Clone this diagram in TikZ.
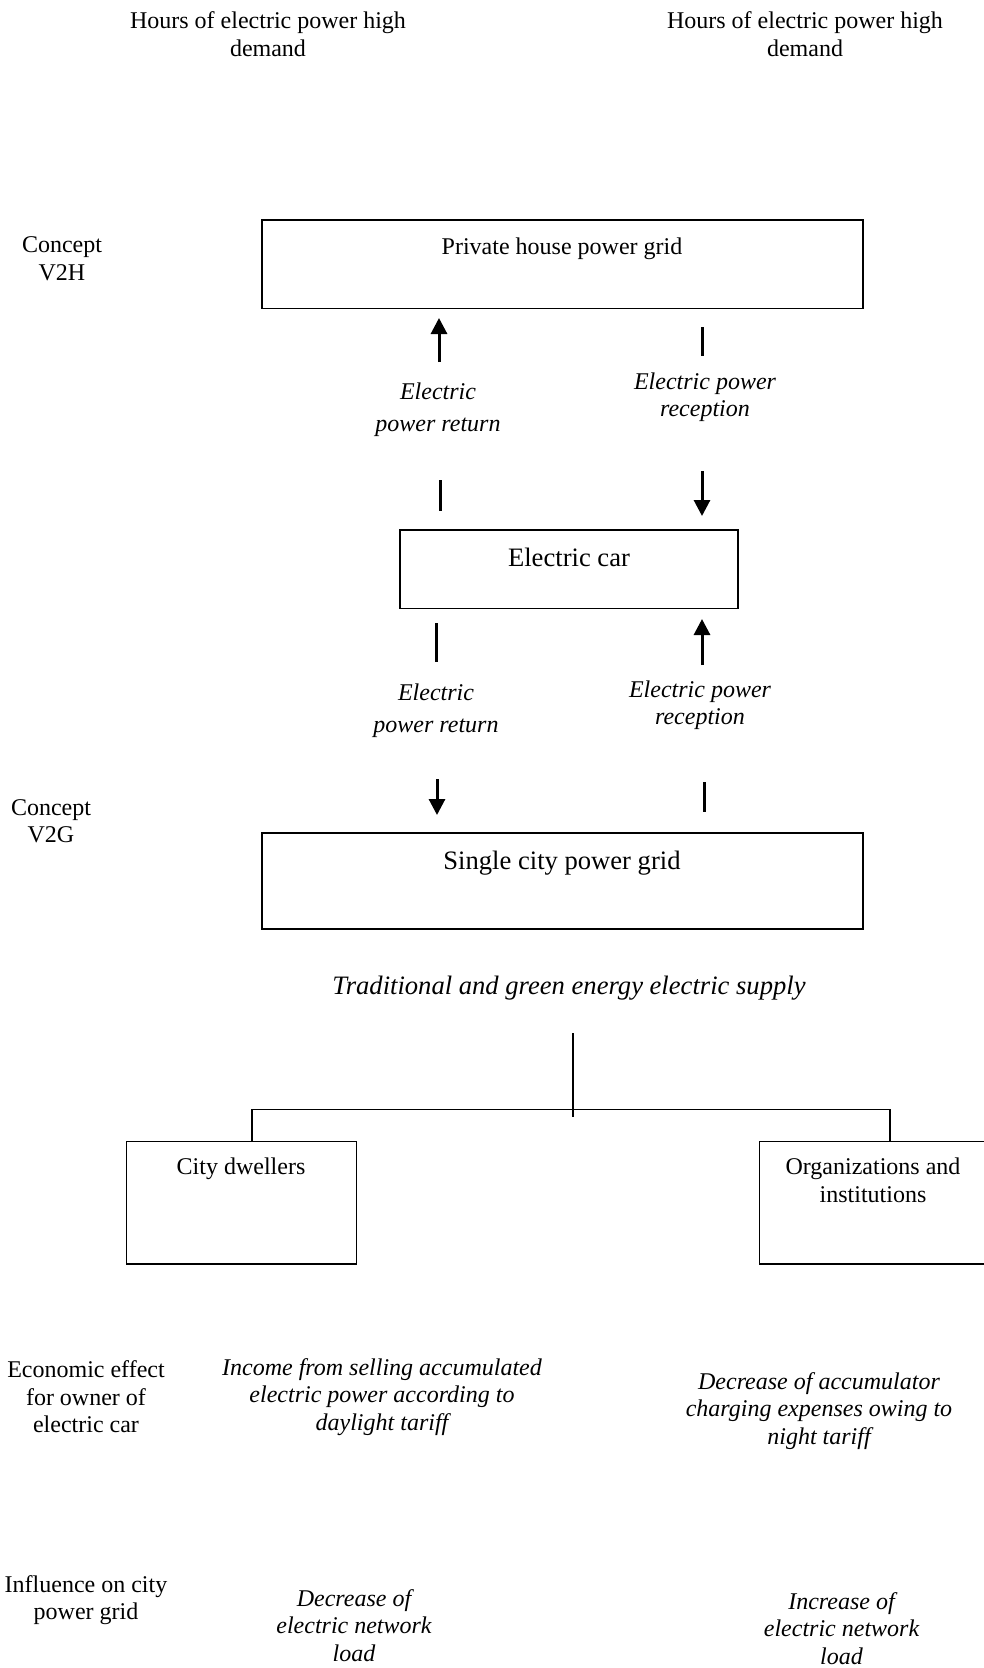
\documentclass[tikz,border=0pt]{standalone}
\usepackage{fontspec}
\setmainfont{Liberation Serif}
\usetikzlibrary{arrows.meta}
\begin{document}
\begin{tikzpicture}[x=1pt,y=-1pt,
  txt/.style={align=center,inner sep=0pt,font=\fontsize{24}{27.5}\selectfont},
  itxt/.style={txt,font=\fontsize{24}{27.5}\selectfont\itshape},
  iwide/.style={txt,font=\fontsize{24}{32}\selectfont\itshape},
  ibig/.style={txt,font=\fontsize{26.6}{30}\selectfont\itshape},
  bigtxt/.style={txt,font=\fontsize{26.6}{30}\selectfont},
  box/.style={draw,line width=1.5pt,inner sep=0pt},
  arr/.style={line width=3pt,-{Triangle[width=16pt,length=16pt]}},
  bar/.style={line width=3pt},
  tree/.style={line width=1.7pt}]
\useasboundingbox (0,0) rectangle (984,1668);
% top texts
\node[txt] (hd1) at (268,34) {Hours of electric power high\\demand};
\node[txt] (hd2) at (805,34) {Hours of electric power high\\demand};
\node[txt] (v2h) at (62,258.5) {Concept\\V2H};
\node[txt] (v2g) at (51,821) {Concept\\V2G};
% boxes
\node[box,minimum width=601pt,minimum height=88.5pt] (house) at (562.5,264.25) {};
\node[txt] (houseT) at (562,249) {Private house power grid};
\node[box,minimum width=338pt,minimum height=78.5pt] (car) at (569,569.25) {};
\node[bigtxt] (carT) at (569,557.5) {Electric car};
\node[box,minimum width=601pt,minimum height=96pt] (city) at (562.5,881) {};
\node[bigtxt] (cityT) at (562,863) {Single city power grid};
% labels
\node[iwide] (ret1) at (438,410) {Electric\\power return};
\node[itxt] (rec1) at (705,397) {Electric power\\reception};
\node[iwide] (ret2) at (436,711) {Electric\\power return};
\node[itxt] (rec2) at (700,705) {Electric power\\reception};
% coordinates for arrows
\coordinate (a1s) at (439,362); \coordinate (a1e) at (439,318);
\coordinate (b1s) at (702,327); \coordinate (b1e) at (702,356);
\coordinate (b2s) at (440,480); \coordinate (b2e) at (440,511);
\coordinate (a2s) at (702,471); \coordinate (a2e) at (702,516);
\coordinate (b3s) at (436,623); \coordinate (b3e) at (436,662);
\coordinate (a3s) at (702,665); \coordinate (a3e) at (702,619);
\coordinate (a4s) at (437,779); \coordinate (a4e) at (437,815);
\coordinate (b4s) at (704,782); \coordinate (b4e) at (704,812);
\draw[arr] (a1s) -- (a1e);
\draw[bar] (b1s) -- (b1e);
\draw[bar] (b2s) -- (b2e);
\draw[arr] (a2s) -- (a2e);
\draw[bar] (b3s) -- (b3e);
\draw[arr] (a3s) -- (a3e);
\draw[arr] (a4s) -- (a4e);
\draw[bar] (b4s) -- (b4e);
% supply
\node[ibig] (sup) at (569,988) {Traditional and green energy electric supply};
% tree
\node[box,minimum width=230pt,minimum height=122.5pt] (dw) at (241.5,1202.75) {};
\node[txt] (dwT) at (241,1169) {City dwellers};
\node[box,minimum width=240pt,minimum height=122.5pt] (org) at (879.5,1202.75) {};
\node[txt] (orgT) at (873,1180.5) {Organizations and\\institutions};
\coordinate (tt) at (573,1033);
\coordinate (tb) at (573,1117);
\coordinate (tl) at (252,1109.5);
\coordinate (tr) at (890,1109.5);
\draw[tree] (tt) -- (tb);
\draw[tree] (dw.north -| tl) -- (tl) -- (tr) -- (org.north -| tr);
% bottom texts
\node[txt] (eco) at (86,1397) {Economic effect\\for owner of\\electric car};
\node[itxt] (inc) at (382,1397) {Income from selling accumulated\\electric power according to\\daylight tariff};
\node[itxt] (dec) at (819,1411) {Decrease of accumulator\\charging expenses owing to\\night tariff};
\node[txt] (inf) at (86,1600) {Influence on city\\power grid};
\node[itxt] (decl) at (354,1625.5) {Decrease of\\electric network\\load};
\node[itxt] (incl) at (841.5,1628.5) {Increase of\\electric network\\load};
\end{tikzpicture}
\end{document}
